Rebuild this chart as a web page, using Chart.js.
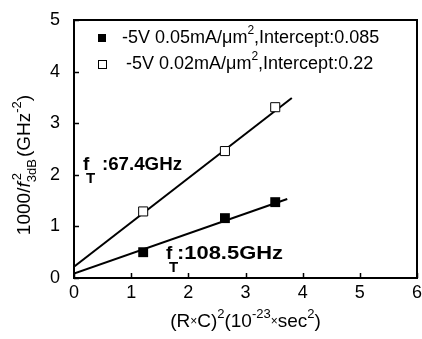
<!DOCTYPE html>
<html><head><meta charset="utf-8">
<script src="https://cdn.jsdelivr.net/npm/chart.js@4/dist/chart.umd.min.js"></script>
<style>html,body{margin:0;padding:0;background:#fff}#wrap{width:422px;height:339px}</style>
</head><body><div id="wrap"><canvas id="c" width="422" height="339"></canvas></div>
<script>
// ---- data ----
const xTicks = [0, 1, 2, 3, 4, 5, 6];
const yTicks = [0, 1, 2, 3, 4, 5];
const filledX = [1.21, 2.64, 3.52];
const filledY = [0.50, 1.16, 1.47];
const openX = [1.21, 2.64, 3.52];
const openY = [1.29, 2.46, 3.31];
const filledFitX = [0, 3.73];
const filledFitY = [0.085, 1.53];
const openFitX = [0, 3.81];
const openFitY = [0.22, 3.49];
const legendLabels = ["-5V 0.05mA/\u03BCm", "-5V 0.02mA/\u03BCm"];
const legendTails = [",Intercept:0.085", ",Intercept:0.22"];
const annotFt = [":67.4GHz", ":108.5GHz"];

const FONT = '"Liberation Sans", Arial, sans-serif';
const toPts = (xs, ys) => xs.map((x, i) => ({x: x, y: ys[i]}));

function fontOf(s) { return (s.italic ? 'italic ' : '') + (s.bold ? 'bold ' : '') + s.size + 'px ' + FONT; }
function drawRich(ctx, x, y, segs) {
  let cx = x;
  for (const s of segs) {
    ctx.font = fontOf(s);
    cx += (s.dx || 0);
    ctx.fillText(s.t, cx, y + (s.dy || 0));
    if (!s.noAdvance) cx += ctx.measureText(s.t).width;
  }
  return cx;
}
function richWidth(ctx, segs) {
  let w = 0;
  for (const s of segs) {
    ctx.font = fontOf(s);
    w += (s.dx || 0);
    if (!s.noAdvance) w += ctx.measureText(s.t).width;
  }
  return w;
}

const decor = {
  id: 'decor',
  beforeDatasetsDraw(chart) {
    const ctx = chart.ctx, a = chart.chartArea;
    const xs = chart.scales.x, ys = chart.scales.y;
    ctx.save();
    ctx.strokeStyle = '#000';
    ctx.lineWidth = 2;
    ctx.strokeRect(a.left, a.top, a.right - a.left, a.bottom - a.top);
    ctx.lineWidth = 1.5;
    ctx.beginPath();
    xTicks.forEach(v => {
      const px = Math.round(xs.getPixelForValue(v)) + 0.5;
      ctx.moveTo(px, a.bottom); ctx.lineTo(px, a.bottom - 5);
    });
    yTicks.forEach(v => {
      const py = Math.round(ys.getPixelForValue(v)) + 0.5;
      ctx.moveTo(a.left, py); ctx.lineTo(a.left + 5, py);
    });
    ctx.stroke();
    // x tick labels
    ctx.fillStyle = '#000';
    ctx.font = '18px ' + FONT;
    ctx.textAlign = 'center';
    ctx.textBaseline = 'middle';
    xTicks.forEach(v => {
      ctx.fillText(String(v), xs.getPixelForValue(v), a.bottom + 15);
    });
    ctx.restore();
  },
  afterDraw(chart) {
    const ctx = chart.ctx, a = chart.chartArea;
    ctx.save();
    ctx.fillStyle = '#000';
    ctx.textBaseline = 'middle';
    ctx.textAlign = 'left';
    // legend
    const lx = 102, ly = [38, 64];
    ctx.fillRect(lx - 4, ly[0] - 4, 8, 8);
    ctx.strokeStyle = '#000'; ctx.lineWidth = 1;
    ctx.strokeRect(lx - 3.5, ly[1] - 3.5, 8, 8);
    [0, 1].forEach(i => {
      drawRich(ctx, i === 0 ? 122 : 126, ly[i], [
        {t: legendLabels[i], size: 18},
        {t: '2', size: 12, dy: -7},
        {t: legendTails[i], size: 18}
      ]);
    });
    // annotations
    const an = [{x: 83, y: 165, tx: 102, tw: 80, t: annotFt[0]}, {x: 166, y: 254, tx: 177, tw: 106, t: annotFt[1]}];
    an.forEach(o => {
      ctx.font = 'bold 19px ' + FONT;
      ctx.fillText('f', o.x, o.y);
      ctx.font = 'bold 15px ' + FONT;
      ctx.fillText('T', o.x + 3, o.y + 14);
      ctx.font = 'bold 18px ' + FONT;
      const w = ctx.measureText(o.t).width;
      ctx.save();
      ctx.translate(o.tx, o.y);
      ctx.scale(o.tw / w, 1);
      ctx.fillText(o.t, 0, 0);
      ctx.restore();
    });
    // x title
    const xsegs = [
      {t: '(R', size: 19}, {t: '\u00D7', size: 12}, {t: 'C)', size: 19},
      {t: '2', size: 13, dy: -8}, {t: '(10', size: 19}, {t: '-23', size: 13, dy: -8},
      {t: '\u00D7', size: 12}, {t: 'sec', size: 19}, {t: '2', size: 13, dy: -8}, {t: ')', size: 19}
    ];
    const xw = richWidth(ctx, xsegs);
    drawRich(ctx, (a.left + a.right) / 2 - xw / 2, 322, xsegs);
    // y title
    const ysegs = [
      {t: '1000/', size: 19}, {t: 'f', size: 19, italic: true},
      {t: '3dB', size: 13, dy: 7, noAdvance: true}, {t: '2', size: 13, dy: -8, dx: 2},
      {t: '(GHz', size: 19, dx: 16}, {t: '-2', size: 13, dy: -8}, {t: ')', size: 19}
    ];
    const yw = richWidth(ctx, ysegs);
    ctx.translate(25, 165);
    ctx.rotate(-Math.PI / 2);
    drawRich(ctx, -yw / 2, 0, ysegs);
    ctx.restore();
  }
};

new Chart(document.getElementById('c'), {
  type: 'scatter',
  data: {
    datasets: [
      {data: toPts(openFitX, openFitY), showLine: true, borderColor: '#000', borderWidth: 2, pointRadius: 0, order: 3},
      {data: toPts(filledFitX, filledFitY), showLine: true, borderColor: '#000', borderWidth: 2, pointRadius: 0, order: 3},
      {data: toPts(filledX, filledY), pointStyle: 'rect', pointRadius: 7, backgroundColor: '#000', borderColor: '#000', borderWidth: 0, order: 1},
      {data: toPts(openX, openY), pointStyle: 'rect', pointRadius: 6.4, backgroundColor: '#fff', borderColor: '#000', borderWidth: 1, order: 1}
    ]
  },
  options: {
    responsive: false, animation: false, devicePixelRatio: 1,
    layout: {autoPadding: false, padding: {top: 20, right: 5, left: 0, bottom: 0}},
    plugins: {legend: {display: false}, tooltip: {enabled: false}},
    scales: {
      x: {
        min: 0, max: 6,
        afterFit: s => { s.height = 61; s.paddingLeft = 0; s.paddingRight = 0; },
        afterBuildTicks: s => { s.ticks = xTicks.map(v => ({value: v})); },
        grid: {display: false}, border: {display: false},
        ticks: {display: false}
      },
      y: {
        min: 0, max: 5,
        afterFit: s => { s.width = 74; s.paddingTop = 0; s.paddingBottom = 0; },
        afterBuildTicks: s => { s.ticks = yTicks.map(v => ({value: v})); },
        grid: {display: false}, border: {display: false},
        ticks: {color: '#000', font: {size: 18, family: FONT}, padding: 6}
      }
    }
  },
  plugins: [decor]
});
</script>
</body></html>
